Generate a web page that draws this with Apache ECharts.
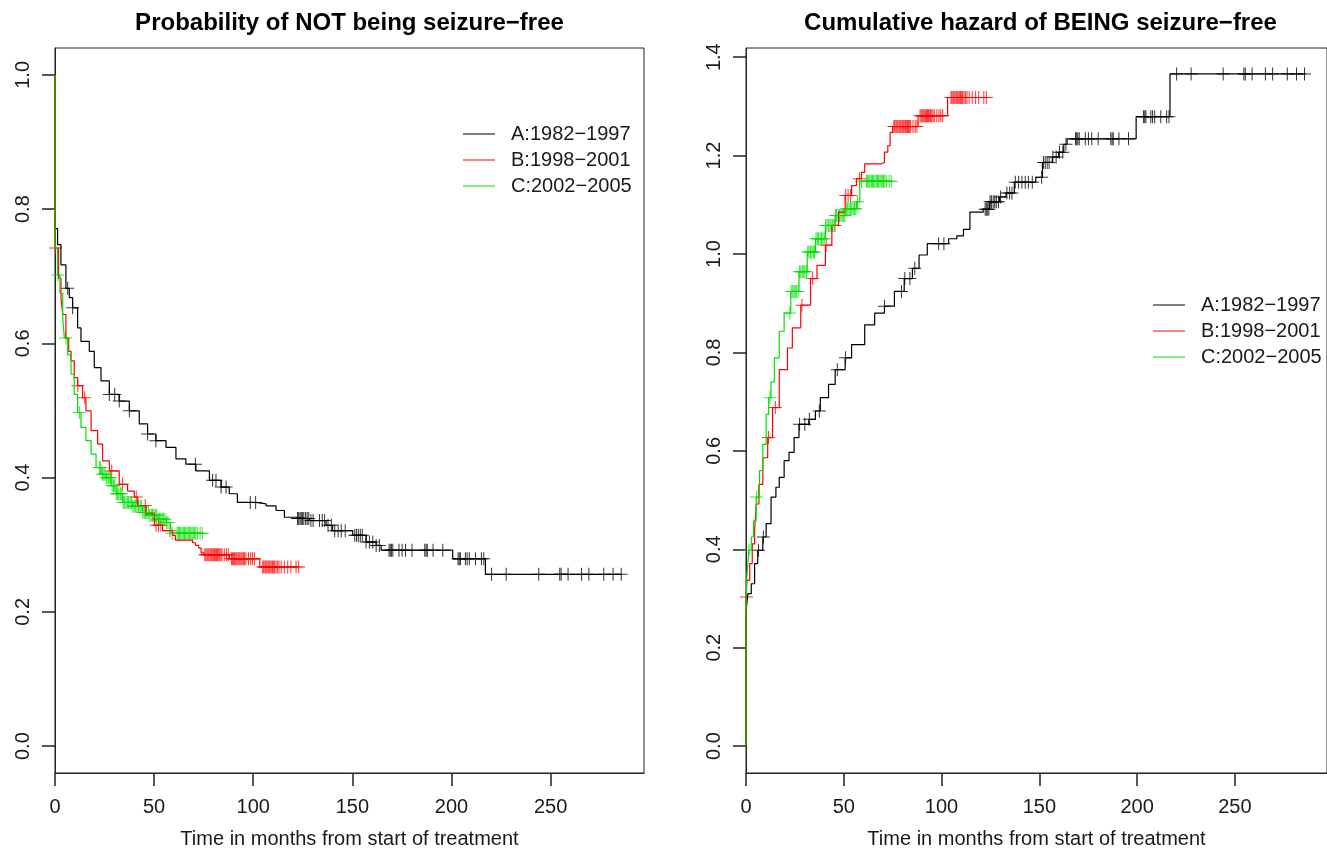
<!DOCTYPE html>
<html>
<head>
<meta charset="utf-8">
<script src="https://cdn.jsdelivr.net/npm/echarts@6/dist/echarts.min.js"></script>
<style>
  html, body { margin: 0; padding: 0; background: #ffffff; }
  #chart { width: 1327px; height: 854px; }
</style>
</head>
<body>
<div id="chart"></div>
<script>
// Kaplan–Meier estimate of NOT being seizure-free, per treatment era: [months, probability]
const survA = [[0,1],[0,0.771],[1.3,0.747],[3,0.717],[5.5,0.682],[7.2,0.668],[8.9,0.653],[11.4,0.623],[13.1,0.603],[17.3,0.588],[19.8,0.564],[23.2,0.544],[27.4,0.524],[32.4,0.514],[37.5,0.4995],[42.5,0.480],[46.7,0.465],[50.9,0.455],[56,0.445],[61,0.428],[66,0.420],[71.1,0.410],[77.9,0.396],[83.8,0.386],[87.9,0.376],[92,0.363],[101.4,0.361],[106.5,0.358],[111.5,0.351],[115.7,0.341],[121.6,0.339],[128.3,0.336],[136.7,0.329],[140,0.321],[150.2,0.314],[156.9,0.304],[162,0.299],[164.5,0.292],[200.6,0.279],[217.1,0.256],[286.2,0.256]];
const survB = [[0,1],[0,0.742],[1.8,0.697],[3,0.668],[3.9,0.643],[5.5,0.608],[6.9,0.588],[8.1,0.574],[9.7,0.549],[11.4,0.537],[13.9,0.519],[15.6,0.4995],[18.2,0.470],[21.5,0.450],[24,0.425],[27.4,0.410],[32.4,0.390],[36.6,0.380],[40,0.371],[41.7,0.3585],[45.9,0.346],[50.1,0.329],[54.3,0.321],[59.3,0.314],[60.7,0.307],[69.4,0.303],[70.8,0.299],[72.5,0.295],[73.7,0.288],[75.1,0.285],[88,0.279],[103.3,0.267],[122.9,0.267]];
const survC = [[0,1],[0,0.742],[1.3,0.702],[2.5,0.675],[3.9,0.638],[4.7,0.608],[6.4,0.583],[8.1,0.554],[9.7,0.524],[11.4,0.497],[13.1,0.475],[15.6,0.455],[18.2,0.435],[20.7,0.415],[23.2,0.405],[25.7,0.400],[28.3,0.388],[30.8,0.376],[34.1,0.363],[39.2,0.3575],[44.2,0.348],[47.6,0.344],[52,0.338],[56,0.333],[58.3,0.317],[74.5,0.317]];

// Cumulative hazard of BEING seizure-free, per treatment era: [months, hazard]
const hazA = [[0,0],[0,0.263],[0.2,0.283],[1,0.31],[2.7,0.33],[4.4,0.371],[6,0.398],[8.6,0.425],[10.3,0.452],[12.8,0.506],[15.3,0.526],[17,0.546],[19.5,0.58],[22,0.597],[24.6,0.627],[27.1,0.654],[32.1,0.664],[35.5,0.681],[38,0.708],[42.2,0.735],[45.6,0.765],[50.7,0.789],[54,0.816],[60.7,0.856],[65.8,0.88],[70.8,0.894],[75.9,0.924],[80.9,0.95],[85.1,0.971],[88.5,0.998],[92.7,1.021],[103.6,1.031],[107.8,1.037],[111.2,1.05],[114.5,1.085],[121.3,1.091],[124.6,1.106],[129.7,1.116],[133,1.124],[137.2,1.146],[148.2,1.156],[151.6,1.186],[156.6,1.197],[159.9,1.207],[162.5,1.223],[164.2,1.234],[199.5,1.279],[216.8,1.366],[286.2,1.366]];
const hazB = [[0,0],[0,0.303],[0.5,0.337],[1.9,0.371],[3.2,0.411],[4.4,0.438],[5.2,0.492],[6.6,0.532],[8.6,0.586],[11.1,0.627],[13.6,0.688],[17,0.765],[21.2,0.809],[23.7,0.85],[28,0.896],[33,0.95],[36.3,0.977],[40.6,1.018],[43.9,1.058],[47.3,1.085],[50.7,1.119],[54,1.139],[56.5,1.153],[59,1.166],[60.7,1.183],[69.1,1.186],[70.8,1.207],[72.5,1.22],[73.7,1.247],[75,1.259],[88,1.281],[103.1,1.318],[122.9,1.318]];
const hazC = [[0,0],[0,0.3],[0.5,0.35],[1.5,0.398],[2.7,0.425],[3.9,0.458],[5.2,0.506],[6.9,0.56],[8.6,0.613],[10.3,0.674],[11.6,0.708],[12.8,0.74],[14.5,0.789],[17,0.843],[19.5,0.88],[22.9,0.924],[27.1,0.964],[31.3,1.004],[35.5,1.031],[40.6,1.058],[45.6,1.078],[50.7,1.092],[56.5,1.106],[58.2,1.148],[74.5,1.148]];

// Censoring times (months) per era, marked with "+" on each curve
const censA = [6.4,8.9,27.4,30.1,32.4,37.5,46.7,50.9,70.8,79.5,81.2,83.8,86.3,98.5,101.2,122.3,122.9,123.6,124.2,124.8,125.5,126.4,127.2,128,129.1,130.2,133.4,134.8,136,137.7,139.4,141.1,142.8,144.4,146.4,151.2,152.1,153,154,155,156.9,158.6,160.3,162,163.6,168.5,169.1,169.7,170.4,173.5,175.1,176.8,180.1,186.5,187.2,187.8,190.7,195.6,203.3,203.9,204.5,207,207.9,209,212.1,215.1,216.3,220.2,227.6,244,254.6,255.3,258.8,265.6,269.3,276.8,281.5,285.6];
const censB = [0.3,11.5,15,28.6,34.1,41,45.5,51,52.2,53.4,58,75.6,76.1,76.7,77.2,77.7,78.3,78.8,79.3,79.9,80.4,80.9,81.5,82,82.6,83.1,83.7,84.2,85.4,86.5,87.4,89,89.6,90.1,90.6,91.2,91.7,92.3,92.8,93.3,93.9,94.4,95,95.6,96.3,97.6,98.7,99.6,100.6,104.8,105.3,105.9,106.4,106.9,107.5,108,108.5,109.1,109.7,110.3,110.8,111.5,112.3,113,114.1,115.7,117.4,119,121.6,122.9];
const censC = [1.5,5.5,12.3,22.4,23.1,23.9,24.6,25.2,25.9,26.7,27.3,28,28.8,29.5,30.1,30.9,31.6,32.2,33,33.7,34.4,35,35.8,36.5,37.1,37.9,38.6,39.3,40,40.7,41.4,42.1,42.9,43.5,44.3,45,45.7,46.3,47.1,47.8,48.5,49.2,49.9,50.6,51.3,52,52.7,53.4,54.1,54.8,55.5,56.2,57,59.1,61.6,62.2,62.8,63.4,64.1,64.7,65.3,65.9,66.6,67.2,67.8,68.5,69.1,69.7,70.3,71,71.8,73.2,74.3];

const groupNames = ['A:1982\u22121997', 'B:1998\u22122001', 'C:2002\u22122005'];
const groupColors = ['#000000', '#ff0000', '#00e000'];
const timeTicks = [0, 50, 100, 150, 200, 250];
const survTicks = [0, 0.2, 0.4, 0.6, 0.8, 1.0];
const hazTicks = [0, 0.2, 0.4, 0.6, 0.8, 1.0, 1.2, 1.4];

const FONT = '"Liberation Sans", Arial, sans-serif';
const INK = '#1a1a1a';
const PLUS = 'path://M0,6H6V0H7V6H13V7H7V13H6V7H0Z';

// value of a right-continuous step curve at time t
function stepValueAt(curve, t) {
  let v = curve[0][1];
  for (const [x, y] of curve) {
    if (x <= t) v = y; else break;
  }
  return v;
}
function censorPoints(curve, times) {
  return times.map(t => [t, stepValueAt(curve, t)]);
}

const panels = [
  { curves: [survA, survB, survC], cens: [censA, censB, censC] },
  { curves: [hazA, hazB, hazC], cens: [censA, censB, censC] }
];

const series = [];
panels.forEach((p, gi) => {
  p.curves.forEach((curve, k) => {
    series.push({
      type: 'line', name: groupNames[k], xAxisIndex: gi, yAxisIndex: gi,
      step: 'end', showSymbol: false, symbol: 'none', color: groupColors[k],
      lineStyle: { width: 1.2, color: groupColors[k] }, data: curve, silent: true
    });
    series.push({
      type: 'scatter', name: 'censored ' + groupNames[k], xAxisIndex: gi, yAxisIndex: gi,
      symbol: PLUS, symbolSize: 13, itemStyle: { color: groupColors[k] },
      data: censorPoints(curve, p.cens[k]), silent: true
    });
  });
});

function xAxisFor(gi) {
  return {
    gridIndex: gi, type: 'value', min: 0, max: 297.1,
    axisLine: { show: true, onZero: false, lineStyle: { color: '#222', width: 1 } },
    axisTick: { show: true, length: 13, customValues: timeTicks, lineStyle: { color: '#222', width: 1.5 } },
    axisLabel: { customValues: timeTicks, fontSize: 20, fontFamily: FONT, color: INK, margin: 24 },
    splitLine: { show: false },
    name: 'Time in months from start of treatment', nameLocation: 'middle', nameGap: 56,
    nameTextStyle: { fontSize: 20, fontFamily: FONT, color: INK }
  };
}
function yAxisFor(gi, min, max, ticks) {
  return {
    gridIndex: gi, type: 'value', min: min, max: max,
    axisLine: { show: true, onZero: false, lineStyle: { color: '#222', width: 1 } },
    axisTick: { show: true, length: 13, customValues: ticks, lineStyle: { color: '#222', width: 1.5 } },
    axisLabel: { customValues: ticks, rotate: 90, fontSize: 20, fontFamily: FONT, color: INK, margin: 22,
                 formatter: v => v.toFixed(1) },
    splitLine: { show: false }
  };
}
function legendAt(left, top) {
  return {
    orient: 'vertical', left: left, top: top, data: groupNames,
    icon: 'path://M0,0H32V1H0Z', itemWidth: 32, itemHeight: 20, itemGap: 6,
    symbolKeepAspect: true, selectedMode: false,
    textStyle: { fontSize: 20, fontFamily: FONT, color: INK, lineHeight: 20, padding: [0, 0, 0, 11] }
  };
}

const chart = echarts.init(document.getElementById('chart'), null, { renderer: 'canvas' });
chart.setOption({
  animation: false,
  backgroundColor: '#ffffff',
  grid: [
    { left: 55, top: 48, width: 589, height: 728, show: true, borderColor: '#222', borderWidth: 1 },
    { left: 746, top: 48, width: 589, height: 728, show: true, borderColor: '#222', borderWidth: 1 }
  ],
  xAxis: [xAxisFor(0), xAxisFor(1)],
  yAxis: [yAxisFor(0, -0.04, 1.04, survTicks), yAxisFor(1, -0.0546, 1.4186, hazTicks)],
  legend: [legendAt(458, 119), legendAt(1148, 290)],
  graphic: [
    { type: 'text', x: 349.5, y: 23, style: { text: 'Probability of NOT being seizure\u2212free',
      font: 'bold 24px ' + FONT, fill: '#000', align: 'center', verticalAlign: 'middle' } },
    { type: 'text', x: 1040.5, y: 23, style: { text: 'Cumulative hazard of BEING seizure\u2212free',
      font: 'bold 24px ' + FONT, fill: '#000', align: 'center', verticalAlign: 'middle' } }
  ],
  series: series
});
</script>
</body>
</html>
